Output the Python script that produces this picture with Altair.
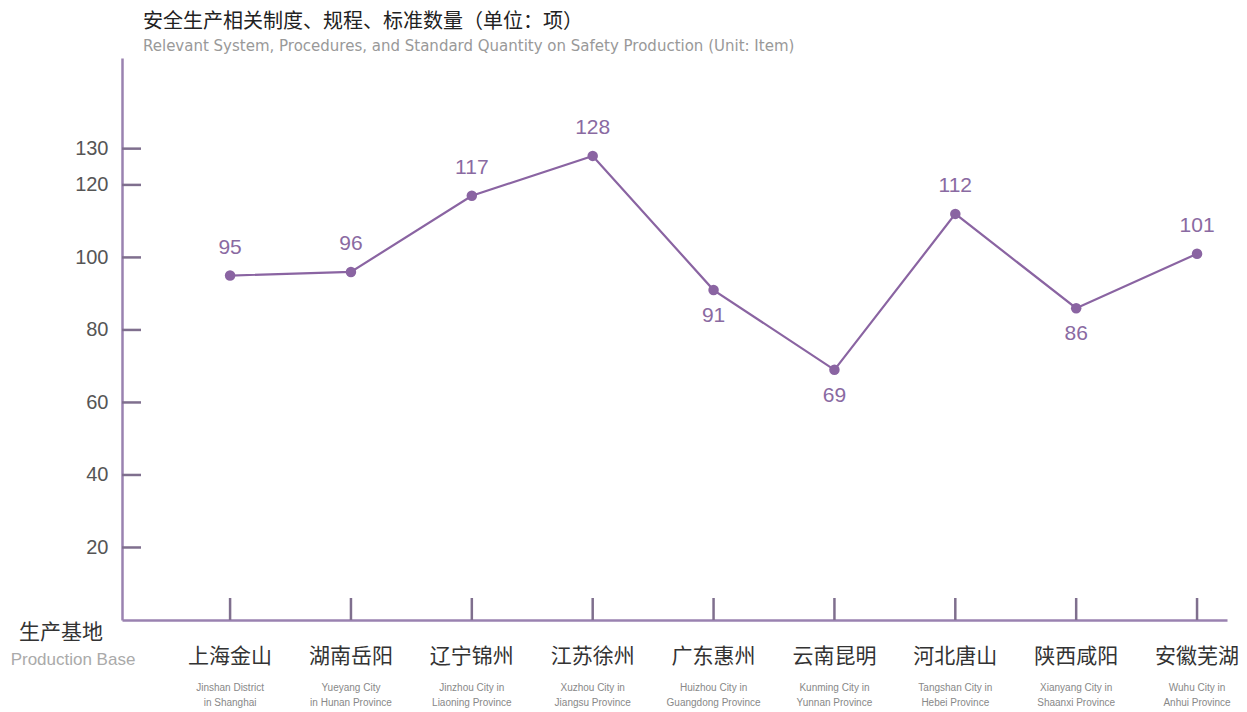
import altair as alt
import pandas as pd

# ---- data ----
bases_cn = ["上海金山", "湖南岳阳", "辽宁锦州", "江苏徐州", "广东惠州", "云南昆明", "河北唐山", "陕西咸阳", "安徽芜湖"]
bases_en = [
    "Jinshan District\nin Shanghai",
    "Yueyang City\nin Hunan Province",
    "Jinzhou City in\nLiaoning Province",
    "Xuzhou City in\nJiangsu Province",
    "Huizhou City in\nGuangdong Province",
    "Kunming City in\nYunnan Province",
    "Tangshan City in\nHebei Province",
    "Xianyang City in\nShaanxi Province",
    "Wuhu City in\nAnhui Province",
]
counts = [95, 96, 117, 128, 91, 69, 112, 86, 101]
y_ticks = [20, 40, 60, 80, 100, 120, 130]

title_cn = "安全生产相关制度、规程、标准数量（单位：项）"
title_en = "Relevant System, Procedures, and Standard Quantity on Safety Production (Unit: Item)"
xtitle_cn = "生产基地"
xtitle_en = "Production Base"

df = pd.DataFrame({"base": bases_cn, "en": bases_en, "value": counts})
prev = [None] + counts[:-1]
df["rise"] = [p is None or v >= p for v, p in zip(counts, prev)]
tick_df = pd.DataFrame({"value": y_ticks})
one = pd.DataFrame({"k": [0]})

W, H = 1105, 562
PURPLE = "#8a64a2"
AXIS = "#9a82b0"
TICK = "#7f6f8e"
FONT = "Liberation Sans"
CJK = "Noto Sans CJK SC"

x_axis = alt.Axis(labels=False, ticks=False, title=None, domainColor=AXIS,
                  domainWidth=2.5, grid=False)
x_scale = alt.Scale(type="point", padding=0.571, align=0.783)
y_axis = alt.Axis(values=y_ticks, title=None, ticks=False, grid=False,
                  domainColor=AXIS, domainWidth=2.5, labelFontSize=20,
                  labelColor="#555555", labelFont=FONT, labelPadding=14)
y_scale = alt.Scale(domain=[0, 155], nice=False, zero=True)

xs = alt.X("base:N", sort=bases_cn, scale=x_scale, axis=x_axis)
ys = alt.Y("value:Q", scale=y_scale, axis=y_axis)

base = alt.Chart(df)

line = base.mark_line(color=PURPLE, strokeWidth=2.2).encode(x=xs, y=ys)
pts = base.mark_circle(color=PURPLE, size=110, opacity=1).encode(x=xs, y=ys)

lab_up = base.transform_filter("datum.rise").mark_text(
    dy=-28, fontSize=21, color="#8a6aa2", font=FONT
).encode(x=xs, y=ys, text="value:Q")
lab_dn = base.transform_filter("!datum.rise").mark_text(
    dy=26, fontSize=21, color="#8a6aa2", font=FONT
).encode(x=xs, y=ys, text="value:Q")

yticks = alt.Chart(tick_df).mark_rule(color=TICK, strokeWidth=2.5).encode(
    y=ys, x=alt.value(0), x2=alt.value(19))
xticks = base.mark_rule(color=TICK, strokeWidth=2.5).encode(
    x=xs, y=alt.value(H - 22), y2=alt.value(H))

cn_labels = base.mark_text(fontSize=21, color="#333333", font=CJK, baseline="middle").encode(
    x=xs, y=alt.value(H + 37), text="base:N")
en_labels = base.mark_text(fontSize=10, color="#888888", font=FONT, baseline="middle",
                           lineBreak="\n", lineHeight=15).encode(
    x=xs, y=alt.value(H + 68), text="en:N")

t1 = alt.Chart(one).mark_text(fontSize=20, color="#222222", font=CJK, align="left", baseline="middle").encode(
    x=alt.value(21), y=alt.value(-36), text=alt.value(title_cn))
t2 = alt.Chart(one).mark_text(fontSize=15, color="#999999", font="DejaVu Sans", align="left", baseline="middle").encode(
    x=alt.value(21), y=alt.value(-12), text=alt.value(title_en))
t3 = alt.Chart(one).mark_text(fontSize=21, color="#333333", font=CJK, align="center", baseline="middle").encode(
    x=alt.value(-61), y=alt.value(H + 13), text=alt.value(xtitle_cn))
t4 = alt.Chart(one).mark_text(fontSize=17, color="#aaaaaa", font=FONT, align="center", baseline="middle").encode(
    x=alt.value(-49), y=alt.value(H + 40), text=alt.value(xtitle_en))

chart = alt.layer(line, pts, lab_up, lab_dn, yticks, xticks, cn_labels, en_labels, t1, t2, t3, t4).properties(
    width=W, height=H,
    autosize=alt.AutoSizeParams(type="none"),
    padding={"left": 114, "top": 50, "right": 12, "bottom": 90},
    background="white",
).configure_view(stroke=None)

chart.save("out.html", embed_options={"renderer": "svg", "actions": False})
